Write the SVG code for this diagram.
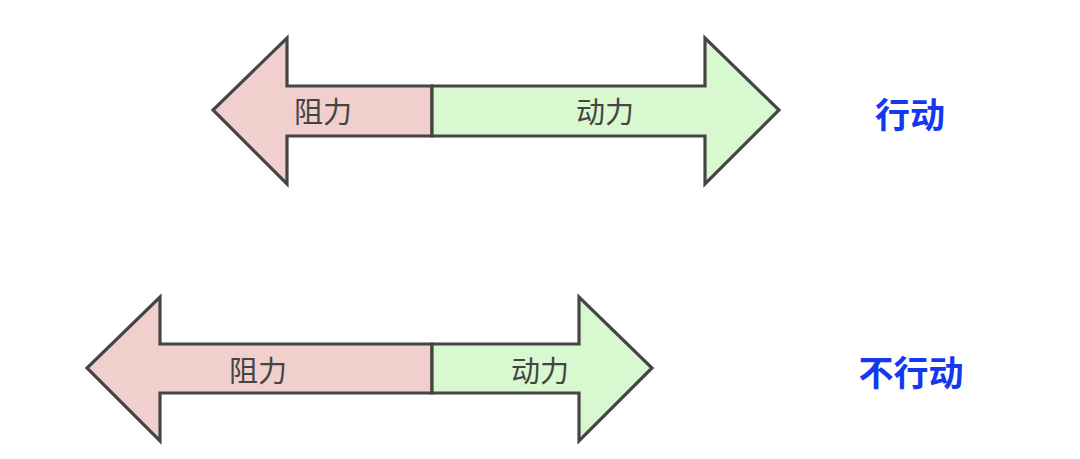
<svg xmlns="http://www.w3.org/2000/svg" width="1080" height="459" viewBox="0 0 1080 459">
<style>
.res{fill:#f0cfcd;stroke:#454545;stroke-width:3.2;stroke-linejoin:miter}
.mot{fill:#d8f8d0;stroke:#454545;stroke-width:3.2;stroke-linejoin:miter}
.lbl{font-family:"Noto Sans CJK SC","Noto Sans",sans-serif;font-size:29px;fill:#444;text-anchor:middle;dominant-baseline:central}
.act{font-family:"Noto Sans CJK SC","Noto Sans",sans-serif;font-size:35px;font-weight:bold;fill:#1438f0;text-anchor:middle;dominant-baseline:central}
</style>
<rect width="1080" height="459" fill="#fff"/>
<g id="top-resist">
<polygon class="res" points="432,86 287,86 287,38 213,110 287,184 287,136 432,136"/>
<text class="lbl" x="323" y="110">阻力</text>
</g>
<g id="top-drive">
<polygon class="mot" points="432,86 705,86 705,38 779,110 705,184 705,136 432,136"/>
<text class="lbl" x="605" y="110">动力</text>
</g>
<g id="top-label"><text class="act" x="910" y="112">行动</text></g>
<g id="bottom-resist">
<polygon class="res" points="432,344 160,344 160,297 87,368 160,441 160,393 432,393"/>
<text class="lbl" x="258" y="369">阻力</text>
</g>
<g id="bottom-drive">
<polygon class="mot" points="432,344 579,344 579,297 652,368 579,441 579,393 432,393"/>
<text class="lbl" x="540" y="369">动力</text>
</g>
<g id="bottom-label"><text class="act" x="911" y="370">不行动</text></g>
<g id="connectors"></g>
</svg>
